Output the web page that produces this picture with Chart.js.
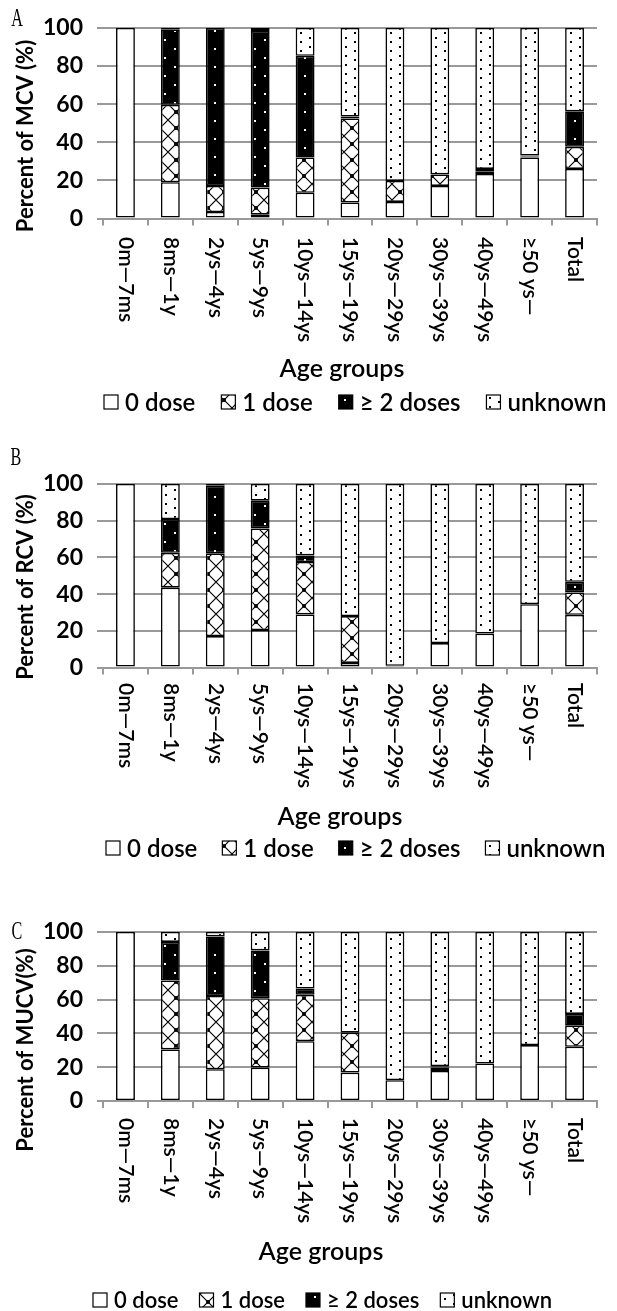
<!DOCTYPE html>
<html>
<head>
<meta charset="utf-8">
<script src="https://cdn.jsdelivr.net/npm/chart.js@4.4.1/dist/chart.umd.min.js"></script>
<style>
    html, body { margin: 0; padding: 0; background: #fff; }
    body { width: 617px; height: 1311px; position: relative; overflow: hidden; }
    .panel { position: absolute; left: 0; width: 617px; }
</style>
</head>
<body>
<div class="panel" style="top:0;height:430px"><canvas id="chartA"></canvas></div>
<div class="panel" style="top:430px;height:440px"><canvas id="chartB"></canvas></div>
<div class="panel" style="top:870px;height:441px"><canvas id="chartC"></canvas></div>

<script>
// ============================================================
// Data (percent of each age group)
// ============================================================

const ageGroups = ["0m\u20147ms", "8ms\u20141y", "2ys\u20144ys", "5ys\u20149ys", "10ys\u201414ys",
    "15ys\u201419ys", "20ys\u201429ys", "30ys\u201439ys", "40ys\u201449ys", "\u226550 ys\u2014", "Total"];
const doseLabels = ["0 dose", "1 dose", "\u2265 2 doses", "unknown"];
const yTicks = [0, 20, 40, 60, 80, 100];

// A : MCV
const mcvZero    = [100, 19.0,  3.4,  2.0, 13.5,  8.4,  8.7, 17.1, 23.4, 32.0, 26.0];
const mcvOne     = [  0, 40.6, 13.7, 14.2, 18.5, 44.1, 11.0,  6.0,  1.4,  0.5, 11.6];
const mcvTwo     = [  0, 39.6, 82.9, 82.1, 53.3,  1.0,  0.0,  0.0,  1.2,  0.5, 18.6];
const mcvUnknown = [  0,  0.8,  0.0,  1.7, 14.7, 46.5, 80.3, 76.9, 74.0, 67.0, 43.8];

// B : RCV
const rcvZero    = [100, 43.5, 17.1, 20.4, 28.9,  2.5,  0.9, 13.3, 18.5, 34.5, 28.7];
const rcvOne     = [  0, 19.0, 45.1, 55.4, 28.6, 25.5,  0.0,  0.0,  0.0,  0.0, 12.2];
const rcvTwo     = [  0, 18.4, 36.9, 15.1,  3.6,  0.0,  0.0,  0.0,  0.0,  0.0,  5.8];
const rcvUnknown = [  0, 19.1,  0.9,  9.1, 38.9, 72.0, 99.1, 86.7, 81.5, 65.5, 53.3];

// C : MUCV
const mucvZero    = [100, 30.5, 18.8, 19.8, 35.4, 16.8, 12.3, 17.8, 22.2, 33.1, 32.1];
const mucvOne     = [  0, 40.8, 43.4, 41.0, 27.4, 23.6,  0.0,  2.0,  0.0,  0.0, 12.5];
const mucvTwo     = [  0, 22.8, 35.2, 28.3,  3.7,  0.0,  0.0,  0.8,  0.0,  0.0,  6.9];
const mucvUnknown = [  0,  5.9,  2.6, 10.9, 33.5, 59.6, 87.7, 79.4, 77.8, 66.9, 48.5];

// ============================================================
// Hatch patterns (Excel-like fills)
// ============================================================

function makePattern(w, h, draw) {
    const c = document.createElement("canvas");
    c.width = w; c.height = h;
    const g = c.getContext("2d");
    draw(g, w, h);
    return g.createPattern(c, "repeat");
}

const fillZero = "#ffffff";

const fillOne = makePattern(16, 16, (g, w, h) => {
    g.fillStyle = "#fff"; g.fillRect(0, 0, w, h);
    g.strokeStyle = "#000"; g.lineWidth = 1.2;
    g.beginPath();
    g.moveTo(0, 0); g.lineTo(w, h);
    g.moveTo(w, 0); g.lineTo(0, h);
    g.stroke();
    g.fillStyle = "#000";
    for (const [px, py] of [[0, 0], [w, 0], [0, h], [w, h]]) {
        g.beginPath(); g.arc(px, py, 2, 0, Math.PI * 2); g.fill();
    }
});

const fillTwo = makePattern(20, 18, (g, w, h) => {
    g.fillStyle = "#000"; g.fillRect(0, 0, w, h);
    g.fillStyle = "#fff";
    g.fillRect(4, 3, 2, 2);
    g.fillRect(14, 12, 2, 2);
});

const fillUnknown = makePattern(18, 9, (g, w, h) => {
    g.fillStyle = "#fff"; g.fillRect(0, 0, w, h);
    g.fillStyle = "#000";
    g.fillRect(3, 1, 2, 2);
    g.fillRect(12, 5, 2, 2);
});

const fills = [fillZero, fillOne, fillTwo, fillUnknown];

// ============================================================
// Plugin : panel letter, y title, rotated labels, x title, legend
// ============================================================

const panelDecor = {
    id: "panelDecor",
    afterDraw(chart, args, o) {
        const ctx = chart.ctx;
        const xs = chart.scales.x;
        ctx.save();
        ctx.fillStyle = "#000";

        // panel letter
        ctx.save();
        ctx.translate(o.letterX, o.letterY);
        ctx.scale(0.62, 1);
        ctx.font = '26px "Liberation Serif"';
        ctx.textAlign = "center";
        ctx.textBaseline = "middle";
        ctx.fillText(o.letter, 0, 0);
        ctx.restore();

        // y axis title
        ctx.save();
        ctx.translate(o.titleX, o.titleY);
        ctx.rotate(-Math.PI / 2);
        ctx.font = "bold 22px Lato";
        ctx.textAlign = "center";
        ctx.textBaseline = "middle";
        ctx.fillText(o.yTitle, 0, 0);
        ctx.restore();

        // category labels, rotated clockwise
        ctx.font = "600 21px Lato";
        chart.data.labels.forEach((lab, i) => {
            ctx.save();
            ctx.translate(xs.getPixelForValue(i), o.labelTop);
            ctx.rotate(Math.PI / 2);
            ctx.textAlign = "left";
            ctx.textBaseline = "middle";
            ctx.fillText(lab, 0, 0);
            ctx.restore();
        });

        // x axis title
        ctx.font = "600 25px Lato";
        ctx.textAlign = "center";
        ctx.textBaseline = "middle";
        ctx.fillText("Age groups", o.xTitleX, o.xTitleY);

        // legend
        ctx.font = "600 " + o.legendSize + "px Lato";
        ctx.textAlign = "left";
        let x = o.legendX;
        chart.data.datasets.forEach(ds => {
            ctx.fillStyle = ds.backgroundColor;
            ctx.fillRect(x, o.legendY - 7, 14, 14);
            ctx.strokeStyle = "#000";
            ctx.lineWidth = 1.2;
            ctx.strokeRect(x, o.legendY - 7, 14, 14);
            ctx.fillStyle = "#000";
            ctx.fillText(ds.label, x + 21, o.legendY + 1);
            x += 21 + ctx.measureText(ds.label).width + o.legendGap;
        });

        ctx.restore();
    }
};

// ============================================================
// Build one panel
// ============================================================

function buildPanel(id, series, height, plotTop, plotBottom, decor) {
    const datasets = series.map((vals, k) => ({
        label: doseLabels[k],
        data: vals,
        backgroundColor: fills[k],
        borderColor: "#000",
        borderWidth: 1.6,
        borderSkipped: false,
        barPercentage: 0.42,
        categoryPercentage: 1
    }));

    const axisH = 9;

    return new Chart(document.getElementById(id), {
        type: "bar",
        data: { labels: ageGroups, datasets },
        plugins: [panelDecor],
        options: {
            responsive: true,
            maintainAspectRatio: false,
            animation: false,
            layout: { padding: { top: plotTop, bottom: height - plotBottom - axisH, left: 0, right: 20 } },
            plugins: {
                legend: { display: false },
                tooltip: { enabled: false },
                panelDecor: decor
            },
            scales: {
                x: {
                    stacked: true,
                    offset: true,
                    ticks: { display: false },
                    grid: { display: true, drawOnChartArea: false, offset: true, color: "#999", lineWidth: 2, tickLength: 7 },
                    border: { display: true, color: "#999", width: 2 },
                    afterFit: s => { s.height = axisH; }
                },
                y: {
                    stacked: true,
                    min: yTicks[0],
                    max: yTicks[yTicks.length - 1],
                    afterBuildTicks: s => { s.ticks = yTicks.map(v => ({ value: v })); },
                    ticks: { color: "#000", padding: 14, font: { family: "Lato", weight: "bold", size: 23 } },
                    grid: { color: "#999", lineWidth: 2, tickLength: 6 },
                    border: { display: false },
                    afterFit: s => { s.width = 103; }
                }
            }
        }
    });
}

buildPanel("chartA", [mcvZero, mcvOne, mcvTwo, mcvUnknown], 430, 24, 218.5, {
    letter: "A", letterX: 17, letterY: 19,
    yTitle: "Percent of MCV (%)", titleX: 26, titleY: 136,
    labelTop: 237, xTitleX: 342, xTitleY: 369,
    legendX: 104, legendY: 402, legendSize: 24, legendGap: 26
});

buildPanel("chartB", [rcvZero, rcvOne, rcvTwo, rcvUnknown], 440, 54, 237.5, {
    letter: "B", letterX: 16, letterY: 28,
    yTitle: "Percent of RCV (%)", titleX: 26, titleY: 157,
    labelTop: 253, xTitleX: 340, xTitleY: 387,
    legendX: 106, legendY: 418, legendSize: 24, legendGap: 25
});

buildPanel("chartC", [mucvZero, mucvOne, mucvTwo, mucvUnknown], 441, 62, 231, {
    letter: "C", letterX: 17, letterY: 62,
    yTitle: "Percent of MUCV(%)", titleX: 26, titleY: 180,
    labelTop: 248, xTitleX: 321, xTitleY: 382,
    legendX: 93, legendY: 430, legendSize: 22, legendGap: 21
});
</script>
</body>
</html>
